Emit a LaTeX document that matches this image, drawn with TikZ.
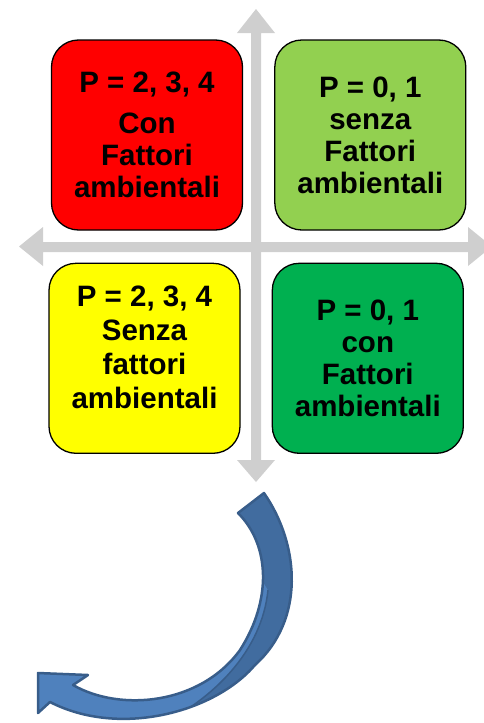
\documentclass[tikz,border=0pt]{standalone}
\usepackage{fontspec}
\setmainfont{Liberation Sans}
\usetikzlibrary{positioning}
\definecolor{redbox}{HTML}{FF0000}
\definecolor{lgreenbox}{HTML}{92D050}
\definecolor{yellowbox}{HTML}{FFFF00}
\definecolor{dgreenbox}{HTML}{00B050}
\definecolor{axisgray}{HTML}{CFCFCF}
\definecolor{bendfront}{HTML}{4F81BD}
\definecolor{bendback}{HTML}{416C9F}
\definecolor{bendline}{HTML}{385D8A}
\tikzset{
  quad/.style={draw=black, line width=1.3pt, rounded corners=27pt,
    minimum width=191pt, minimum height=190pt, inner sep=0pt, align=center,
    font=\bfseries\fontsize{29.5}{32}\selectfont},
  axis/.style={fill=axisgray, draw=none},
  bendedge/.style={draw=bendline, line width=2.5pt, line join=round}
}
\newcommand{\bendpath}{(264,493) .. controls (300,545) and (305,620) .. (255,665)
  .. controls (215,712) and (120,738) .. (50,702) -- (38,713) -- (38,673) -- (88,675) -- (73,685)
  .. controls (120,712) and (200,705) .. (240,650) .. controls (272,600) and (270,545) .. (238,513) -- cycle}
\begin{document}
\begin{tikzpicture}[x=1pt,y=-1pt]
            \useasboundingbox (0,0) rectangle (483,723);
            % gray axes
            \fill[axis] (251,33) -- (237,33) -- (256,9) -- (275,33) -- (261,33) -- (261,460) -- (275,460) -- (256,482) -- (237,460) -- (251,460) -- cycle;
            \fill[axis] (43,242) -- (43,227) -- (19,246.5) -- (43,266) -- (43,252) -- (468,252) -- (468,266) -- (492,246.5) -- (468,227) -- (468,242) -- cycle;
            % quadrants
            \node[quad, fill=redbox] (red) at (147,135) {P = 2, 3, 4\\[9pt] Con\\ Fattori\\ ambientali};
            \node[quad, fill=lgreenbox, right=31pt of red] (lgreen) {P = 0, 1\\ senza\\ Fattori\\ ambientali};
            \node[quad, fill=yellowbox, below=32pt of red, xshift=-2.5pt, text depth=22pt,
              font=\bfseries\fontsize{29.5}{34}\selectfont] (yellow) {P = 2, 3, 4\\ Senza\\ fattori\\ ambientali};
            \node[quad, fill=dgreenbox, right=31pt of yellow] (dgreen) {P = 0, 1\\ con\\ Fattori\\ ambientali};
            % curved arrow
            \fill[bendfront] \bendpath;
            \begin{scope}
              \clip \bendpath;
              \fill[bendback] (200,480) -- (268,590) .. controls (262,650) and (215,700) .. (150,730) -- (330,730) -- (330,480) -- cycle;
              \draw[bendline, line width=1.5pt] (268,590) .. controls (262,650) and (215,700) .. (150,730);
            \end{scope}
            \draw[bendedge] \bendpath;
\end{tikzpicture}
\end{document}
